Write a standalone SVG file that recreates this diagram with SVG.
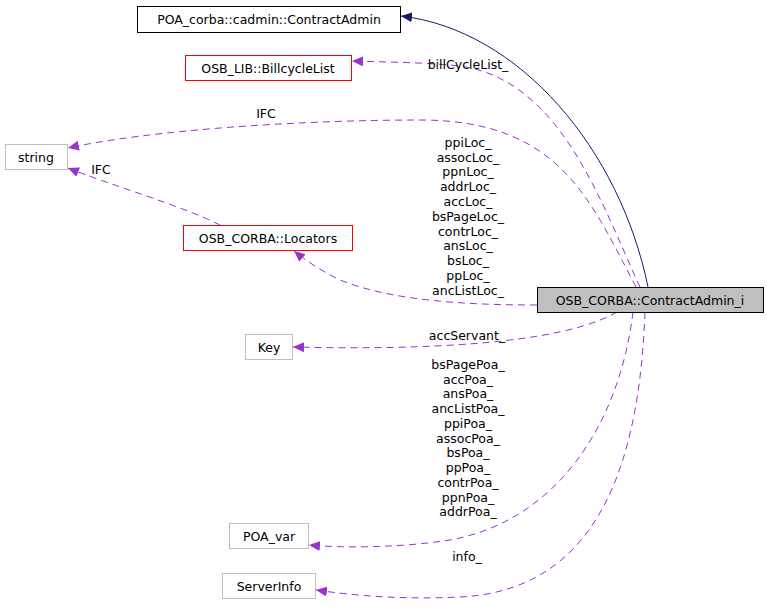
<svg xmlns="http://www.w3.org/2000/svg" width="768" height="613" viewBox="0 0 768 613">
<style>
text{font-family:"DejaVu Sans",sans-serif;font-size:12.5px;fill:#000;text-anchor:middle}
.n{fill:#fff;stroke:#bfbfbf}
.r{fill:#fff;stroke:#ff0000}
.b{fill:#fff;stroke:#000}
.e{fill:none;stroke:#9a32cd;stroke-dasharray:7,5}
</style>
<defs>
<marker id="p" markerWidth="12" markerHeight="10" refX="11" refY="5" orient="auto" markerUnits="userSpaceOnUse"><path d="M0,0 L11,5 L0,10 z" fill="#9a32cd"/></marker>
<marker id="nv" markerWidth="12" markerHeight="10" refX="11" refY="5" orient="auto" markerUnits="userSpaceOnUse"><path d="M0,0 L11,5 L0,10 z" fill="#191970"/></marker>
</defs>
<rect width="768" height="613" fill="#fff"/>
<g id="connectors">
<path d="M648,287 C620,150 520,30 401,16" fill="none" stroke="#191970" marker-end="url(#nv)"/>
<path class="e" d="M640,287 C600,200 560,80 460,66 C420,62 380,62 352,61" marker-end="url(#p)"/>
<path class="e" d="M636,287 C590,200 560,120 420,120 C300,120 150,130 68,148" marker-end="url(#p)"/>
<path class="e" d="M220,225 C180,205 110,185 68,168" marker-end="url(#p)"/>
<path class="e" d="M537,305 C460,305 390,300 340,280 C320,270 305,260 294,251" marker-end="url(#p)"/>
<path class="e" d="M617,312 C560,345 420,350 293,347" marker-end="url(#p)"/>
<path class="e" d="M633,312 C620,420 560,520 450,540 C400,548 340,548 309,545" marker-end="url(#p)"/>
<path class="e" d="M645,312 C640,440 610,590 460,597 C400,600 350,595 316,590" marker-end="url(#p)"/>
</g>
<g id="n1"><rect class="b" x="137.5" y="6.5" width="263" height="26"/><text x="269" y="24">POA_corba::cadmin::ContractAdmin</text></g>
<g id="n2"><rect class="r" x="185.5" y="55.5" width="166" height="25"/><text x="268" y="73">OSB_LIB::BillcycleList</text></g>
<g id="n3"><rect class="n" x="5.5" y="144.5" width="62" height="25"/><text x="36" y="162">string</text></g>
<g id="n4"><rect class="r" x="183.5" y="225.5" width="169" height="25"/><text x="268" y="243">OSB_CORBA::Locators</text></g>
<g id="n5"><rect x="537.5" y="287.5" width="226" height="25" fill="#bfbfbf" stroke="#000"/><text x="650" y="305">OSB_CORBA::ContractAdmin_i</text></g>
<g id="n6"><rect class="n" x="245.5" y="334.5" width="47" height="25"/><text x="269" y="352">Key</text></g>
<g id="n7"><rect class="n" x="229.5" y="523.5" width="79" height="25"/><text x="269" y="541">POA_var</text></g>
<g id="n8"><rect class="n" x="222.5" y="573.5" width="93" height="25"/><text x="269" y="591">ServerInfo</text></g>
<g id="labels">
<text x="468" y="69">billCycleList_</text>
<text x="266" y="118">IFC</text>
<text x="101" y="174">IFC</text>
<text x="468" y="147">ppiLoc_</text>
<text x="468" y="162">assocLoc_</text>
<text x="468" y="176">ppnLoc_</text>
<text x="468" y="191">addrLoc_</text>
<text x="468" y="206">accLoc_</text>
<text x="468" y="221">bsPageLoc_</text>
<text x="468" y="236">contrLoc_</text>
<text x="468" y="250">ansLoc_</text>
<text x="468" y="265">bsLoc_</text>
<text x="468" y="280">ppLoc_</text>
<text x="468" y="295">ancListLoc_</text>
<text x="467" y="340">accServant_</text>
<text x="468" y="369">bsPagePoa_</text>
<text x="468" y="384">accPoa_</text>
<text x="468" y="398">ansPoa_</text>
<text x="468" y="413">ancListPoa_</text>
<text x="468" y="428">ppiPoa_</text>
<text x="468" y="443">assocPoa_</text>
<text x="468" y="457">bsPoa_</text>
<text x="468" y="472">ppPoa_</text>
<text x="468" y="487">contrPoa_</text>
<text x="468" y="502">ppnPoa_</text>
<text x="468" y="516">addrPoa_</text>
<text x="467" y="561">info_</text>
</g>
</svg>
